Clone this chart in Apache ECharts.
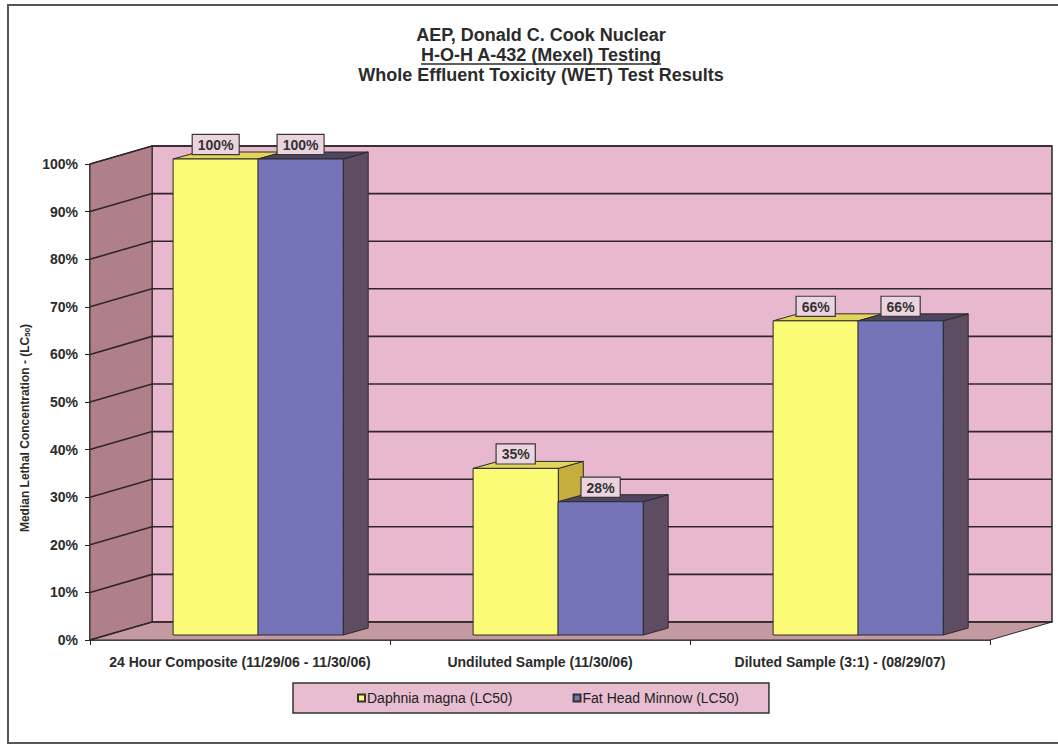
<!DOCTYPE html>
<html>
<head>
<meta charset="utf-8">
<title>WET Test Results</title>
<script src="https://cdn.jsdelivr.net/npm/echarts@6/dist/echarts.min.js"></script>
<style>
  html, body { margin: 0; padding: 0; background: #fff; }
  #chart { width: 1058px; height: 749px; }
</style>
</head>
<body>
<div id="chart"></div>
<script>
// data
const categories = [
  '24 Hour Composite (11/29/06 - 11/30/06)',
  'Undiluted Sample (11/30/06)',
  'Diluted Sample (3:1) - (08/29/07)'
];
const daphnia = [1.00, 0.35, 0.66];
const minnow = [1.00, 0.28, 0.66];
const yTicks = [0, 0.1, 0.2, 0.3, 0.4, 0.5, 0.6, 0.7, 0.8, 0.9, 1.0];
const seriesNames = ['Daphnia magna (LC50)', 'Fat Head Minnow (LC50)'];

// fake 3d depth (pixels)
const DX = 62, DY = 18;     // wall depth
const BDX = 25, BDY = 7;    // bar depth
const LIFT = 5;             // bars sit a bit behind the front edge
const LINE = '#2e2629';

const chart = echarts.init(document.getElementById('chart'), null, { renderer: 'svg' });

const pct = v => Math.round(v * 100) + '%';

const renderFrame = (params, api) => {
  const cs = params.coordSys;
  const x0 = cs.x, x1 = cs.x + cs.width;
  const yb = api.coord([0, yTicks[0]])[1];
  const yt = api.coord([0, yTicks[yTicks.length - 1]])[1];
  const children = [
    { // back wall
      type: 'polygon',
      shape: { points: [[x0 + DX, yt - DY], [x1 + DX, yt - DY], [x1 + DX, yb - DY], [x0 + DX, yb - DY]] },
      style: { fill: '#e8b8ce', stroke: LINE, lineWidth: 1.5 }
    },
    { // left wall
      type: 'polygon',
      shape: { points: [[x0, yb], [x0, yt], [x0 + DX, yt - DY], [x0 + DX, yb - DY]] },
      style: { fill: '#b0808a', stroke: LINE, lineWidth: 1 }
    },
    { // floor
      type: 'polygon',
      shape: { points: [[x0, yb], [x1, yb], [x1 + DX, yb - DY], [x0 + DX, yb - DY]] },
      style: { fill: '#c29a9f', stroke: LINE, lineWidth: 1 }
    }
  ];
  yTicks.forEach(t => {
    const y = api.coord([0, t])[1];
    children.push({
      type: 'polyline',
      shape: { points: [[x0, y], [x0 + DX, y - DY], [x1 + DX, y - DY]] },
      style: { stroke: LINE, lineWidth: 1.6, fill: null }
    });
  });
  return { type: 'group', children: children };
};

const makeBar = (offset, colors) => (params, api) => {
  const idx = api.value(0), v = api.value(1);
  const band = api.size([1, 0])[0];
  const base = api.coord([idx, 0]);
  const top = api.coord([idx, v]);
  const w = band * 0.284;
  const xl = base[0] + band * offset, xr = xl + w;
  const yb = base[1] - LIFT, yt = top[1] - LIFT;
  return {
    type: 'group',
    children: [
      { type: 'polygon', // side
        shape: { points: [[xr, yt], [xr + BDX, yt - BDY], [xr + BDX, yb - BDY], [xr, yb]] },
        style: { fill: colors[2], stroke: '#2a2a2a', lineWidth: 1 } },
      { type: 'polygon', // top
        shape: { points: [[xl, yt], [xr, yt], [xr + BDX, yt - BDY], [xl + BDX, yt - BDY]] },
        style: { fill: colors[1], stroke: '#2a2a2a', lineWidth: 1 } },
      { type: 'rect', // front
        shape: { x: xl, y: yt, width: w, height: yb - yt },
        style: { fill: colors[0], stroke: '#2a2a2a', lineWidth: 1 } },
      { type: 'text',
        x: xl + w / 2, y: yt - 5,
        style: {
          text: pct(v), align: 'center', verticalAlign: 'bottom',
          font: 'bold 14px "Liberation Sans", Arial, sans-serif', fill: '#333',
          backgroundColor: '#ecd4df', borderColor: '#3a3a3a', borderWidth: 1.2,
          padding: [3, 5, 2, 5]
        } }
    ]
  };
};

const option = {
  animation: false,
  backgroundColor: '#fff',
  textStyle: { fontFamily: '"Liberation Sans", Arial, sans-serif' },
  title: {
    text: 'AEP, Donald C. Cook Nuclear\nH-O-H A-432 (Mexel) Testing\nWhole Effluent Toxicity (WET) Test Results',
    left: 536, top: 20, textAlign: 'center',
    textStyle: { fontSize: 18, fontWeight: 'bold', color: '#2b2b2b', lineHeight: 20 }
  },
  legend: {
    data: seriesNames,
    left: 293, top: 683,
    padding: [8, 30, 8, 64],
    itemGap: 60,
    itemWidth: 7, itemHeight: 7,
    icon: 'rect',
    backgroundColor: '#e9bdd0',
    borderColor: '#333', borderWidth: 1.5,
    textStyle: { fontSize: 14, color: '#222', padding: [0, 0, 0, -3] }
  },
  grid: { left: 90, right: 68, top: 164, bottom: 109 },
  xAxis: {
    type: 'category',
    data: categories,
    axisLine: { lineStyle: { color: '#222', width: 1.5 } },
    axisTick: { show: true, length: 5, lineStyle: { color: '#222' } },
    axisLabel: { interval: 0, fontSize: 14, fontWeight: 'bold', color: '#2b2b2b', margin: 15 },
    splitLine: { show: false }
  },
  yAxis: {
    type: 'value',
    min: yTicks[0], max: yTicks[yTicks.length - 1], interval: 0.1,
    name: 'Median Lethal Concentration - (LC{sub|50})',
    nameLocation: 'middle',
    nameGap: 56,
    nameTextStyle: {
      fontSize: 12, fontWeight: 'bold', color: '#2b2b2b', padding: [0, 52, 0, 0],
      rich: { sub: { fontSize: 8, fontWeight: 'bold', color: '#2b2b2b', verticalAlign: 'bottom', padding: [5, 0, 0, 0] } }
    },
    axisLine: { show: true, lineStyle: { color: '#222', width: 1.5 } },
    axisTick: { show: true, length: 5, lineStyle: { color: '#222' } },
    axisLabel: { formatter: pct, fontSize: 14, fontWeight: 'bold', color: '#2b2b2b', margin: 12 },
    splitLine: { show: false }
  },
  graphic: [
    { type: 'rect', shape: { x: 8, y: 5, width: 1100, height: 738 },
      style: { fill: null, stroke: '#555', lineWidth: 2 }, silent: true },
    { type: 'line', shape: { x1: 421, y1: 64, x2: 661, y2: 64 },
      style: { stroke: '#2b2b2b', lineWidth: 1.5 }, silent: true }
  ],
  series: [
    {
      type: 'custom', name: 'frame', silent: true, z: 1,
      renderItem: renderFrame,
      data: [[0, 0]]
    },
    {
      type: 'custom', name: seriesNames[0], z: 3,
      itemStyle: { color: '#fbfb78', borderColor: '#333', borderWidth: 1 },
      renderItem: makeBar(-0.223, ['#fbfb78', '#e2d45c', '#c6ae3e']),
      data: daphnia.map((v, i) => [i, v])
    },
    {
      type: 'custom', name: seriesNames[1], z: 4,
      itemStyle: { color: '#7574b8', borderColor: '#333', borderWidth: 1 },
      renderItem: makeBar(0.06, ['#7574b8', '#4f4560', '#5e4c62']),
      data: minnow.map((v, i) => [i, v])
    }
  ]
};

chart.setOption(option);
</script>
</body>
</html>
